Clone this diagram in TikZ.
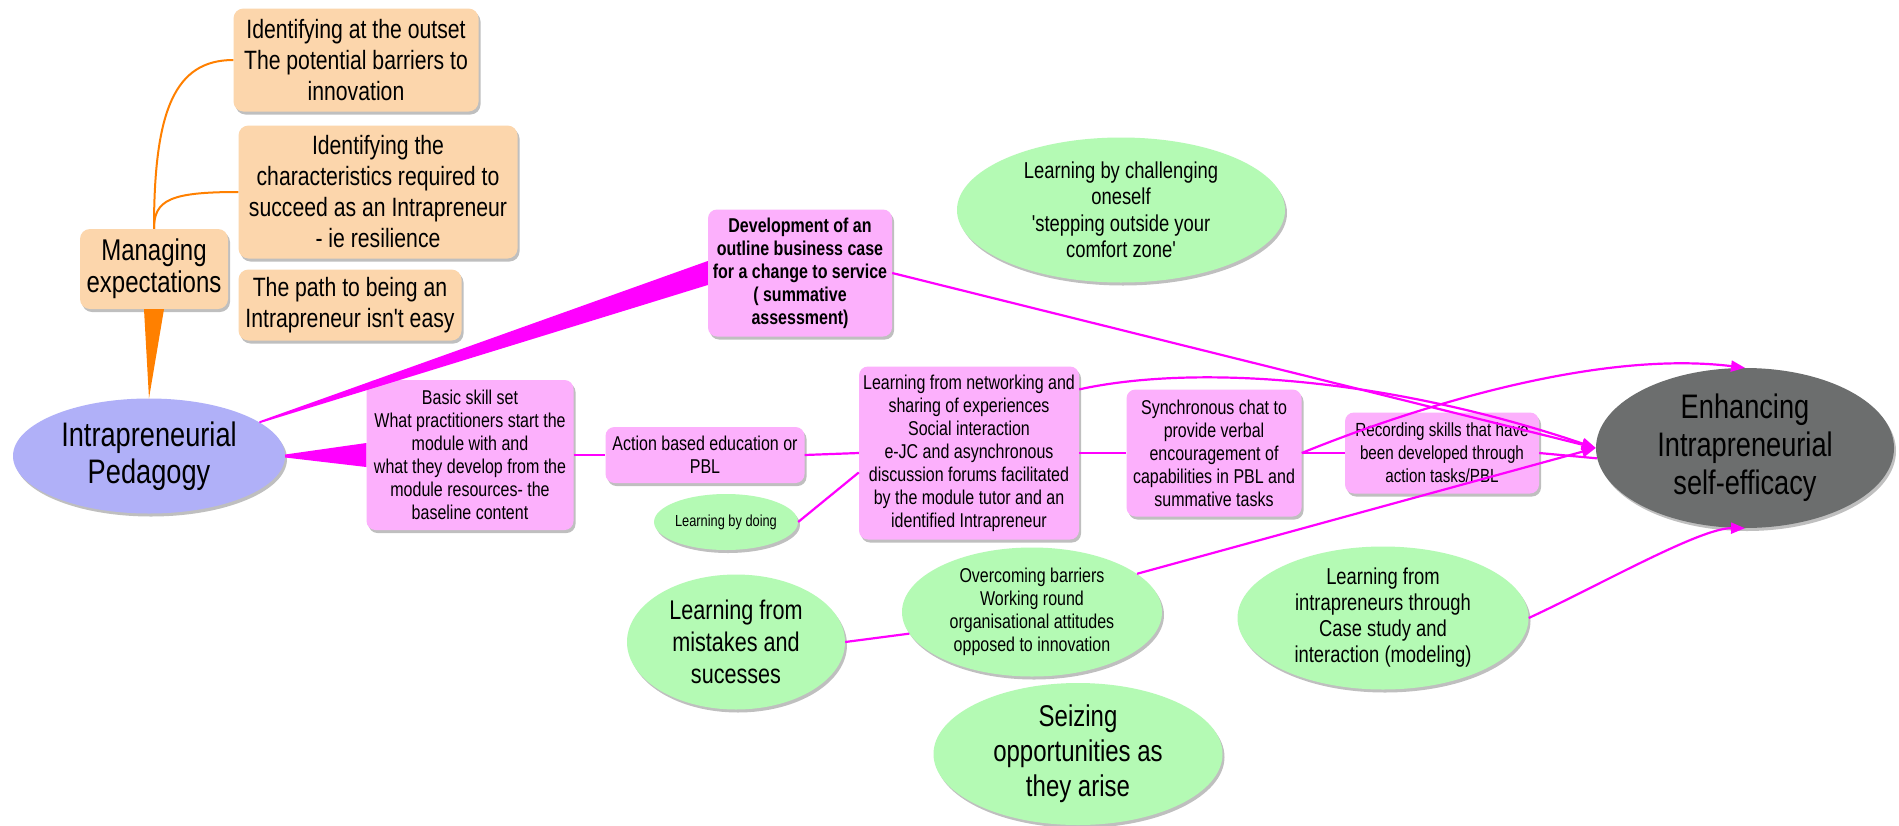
\documentclass[tikz,border=0pt]{standalone}
\usepackage{fontspec}
\setmainfont{Liberation Sans}[FakeStretch=0.8,Ligatures=TeXOff]
\usetikzlibrary{shapes.geometric,arrows.meta,shadows,calc}
\definecolor{peach}{RGB}{252,214,172}
\definecolor{orng}{RGB}{255,128,0}
\definecolor{lav}{RGB}{176,176,248}
\definecolor{pinkb}{RGB}{252,176,252}
\definecolor{mag}{RGB}{255,0,255}
\definecolor{grn}{RGB}{180,250,180}
\definecolor{gry}{RGB}{108,110,110}
\newcommand\setfs[2]{\fontsize{#1}{#2}\selectfont}
\tikzset{
 shd/.style={drop shadow={shadow xshift=2pt,shadow yshift=-3pt,opacity=0.25,fill=black}},
 obox/.style={rectangle,rounded corners=10pt,fill=peach,shd,align=center,inner sep=0pt},
 pbox/.style={rectangle,rounded corners=9pt,fill=pinkb,shd,align=center,inner sep=0pt},
 gell/.style={ellipse,fill=grn,shd,align=center,inner sep=0pt},
 link/.style={draw=mag,line width=2.2pt},
 xlink/.style={link,-{Triangle[length=14pt,width=11pt]}},
 olink/.style={draw=orng,line width=2pt},
}
\begin{document}
\begin{tikzpicture}[x=1pt,y=-1pt]
\fill[white] (0,0) rectangle (1899,825);
\useasboundingbox (0,0) rectangle (1899,825);
% nodes
\node[obox,minimum width=245pt,minimum height=103pt,font=\setfs{26.5}{31}] (io) at (356,60) {Identifying at the outset\\The potential barriers to\\innovation};
\node[obox,minimum width=279pt,minimum height=133pt,font=\setfs{26.5}{31}] (ic) at (378,192) {Identifying the\\characteristics required to\\succeed as an Intrapreneur\\- ie resilience};
\node[obox,minimum width=148pt,minimum height=80pt,font=\setfs{30}{32}] (mg) at (154,269) {Managing\\expectations};
\node[obox,minimum width=223pt,minimum height=71pt,font=\setfs{26.5}{31}] (pt) at (350,305) {The path to being an\\Intrapreneur isn't easy};
\node[ellipse,fill=lav,shd,minimum width=272pt,minimum height=115pt,inner sep=0pt,align=center,font=\setfs{34}{37}] (ped) at (149,456) {Intrapreneurial\\Pedagogy};
\node[pbox,minimum width=207pt,minimum height=150pt,font=\setfs{20}{23}] (bs) at (470,455) {Basic skill set\\What practitioners start the\\module with and\\what they develop from the\\module resources- the\\baseline content};
\node[pbox,minimum width=184pt,minimum height=127pt,font=\bfseries\setfs{20}{23}] (dev) at (800,273) {Development of an\\outline business case\\for a change to service\\( summative\\assessment)};
\node[pbox,minimum width=199pt,minimum height=56pt,font=\setfs{20}{23}] (act) at (705,455) {Action based education or\\PBL};
\node[gell,minimum width=125pt,minimum height=56pt,font=\setfs{16}{19}] (dog) at (726,522) {Learning by doing};
\node[pbox,minimum width=220pt,minimum height=173pt,font=\setfs{20}{23}] (net) at (969,453) {Learning from networking and\\sharing of experiences\\Social interaction\\e-JC and asynchronous\\discussion forums facilitated\\by the module tutor and an\\identified Intrapreneur};
\node[pbox,minimum width=175pt,minimum height=127pt,font=\setfs{20}{23}] (syn) at (1214,453) {Synchronous chat to\\provide verbal\\encouragement of\\capabilities in PBL and\\summative tasks};
\node[pbox,minimum width=194pt,minimum height=81pt,font=\setfs{19}{23}] (rec) at (1442,453) {Recording skills that have\\been developed through\\action tasks/PBL};
\node[ellipse,fill=gry,shd,minimum width=298pt,minimum height=160pt,inner sep=0pt,align=center,font=\setfs{34}{38}] (enh) at (1745,448) {Enhancing\\Intrapreneurial\\self-efficacy};
\node[gell,minimum width=328pt,minimum height=145pt,font=\setfs{23}{26.5}] (chl) at (1121,210) {Learning by challenging\\oneself\\'stepping outside your\\comfort zone'};
\node[gell,minimum width=260pt,minimum height=129pt,font=\setfs{20}{23}] (ov) at (1032,612) {Overcoming barriers\\Working round\\organisational attitudes\\opposed to innovation};
\node[gell,minimum width=218pt,minimum height=135pt,font=\setfs{27}{32}] (mis) at (736,642) {Learning from\\mistakes and\\sucesses};
\node[gell,minimum width=289pt,minimum height=142pt,font=\setfs{30}{35}] (sz) at (1078,754) {Seizing\\opportunities as\\they arise};
\node[gell,minimum width=291pt,minimum height=143pt,font=\setfs{23}{26}] (itr) at (1383,618) {Learning from\\intrapreneurs through\\Case study and\\interaction (modeling)};
% orange connectors
\fill[orng] ($(mg.south)+(-10,0)$) -- ($(mg.south)+(10,0)$) -- (ped.north) -- cycle;
\draw[olink] (mg.north) .. controls (154,110) and (175,60) .. (io.west);
\draw[olink] (mg.north) .. controls (154,200) and (170,192) .. (ic.west);
% magenta wedges
\fill[mag] ($(ped.17)+(0,-1)$) -- ($(dev.west)+(0,-12)$) -- ($(dev.west)+(0,12)$) -- ($(ped.17)+(0,1)$) -- cycle;
\fill[mag] ($(ped.east)+(0,-1.5)$) -- ($(bs.west)+(0,-12)$) -- ($(bs.west)+(0,12)$) -- ($(ped.east)+(0,1.5)$) -- cycle;
% chain links
\draw[link] (bs.east) -- (act.west);
\draw[link] (act.east) -- (net.west);
\draw[link] (dog.east) -- (net.190);
\draw[link] (net.east) -- (syn.west);
\draw[link] (syn.east) -- (rec.west);
\draw[link] (rec.east) -- (enh.184);
\draw[link] (mis.east) -- (ov.190);
% cross links
\draw[xlink] (dev.east) -- (enh.west);
\draw[xlink] (net.30) .. controls (1190,365) and (1380,375) .. (enh.west);
\draw[xlink] (ov.20) -- (enh.west);
\draw[xlink] (syn.east) .. controls (1420,405) and (1600,350) .. (enh.north);
\draw[xlink] (itr.east) .. controls (1600,585) and (1700,528) .. (enh.south);
\end{tikzpicture}
\end{document}
